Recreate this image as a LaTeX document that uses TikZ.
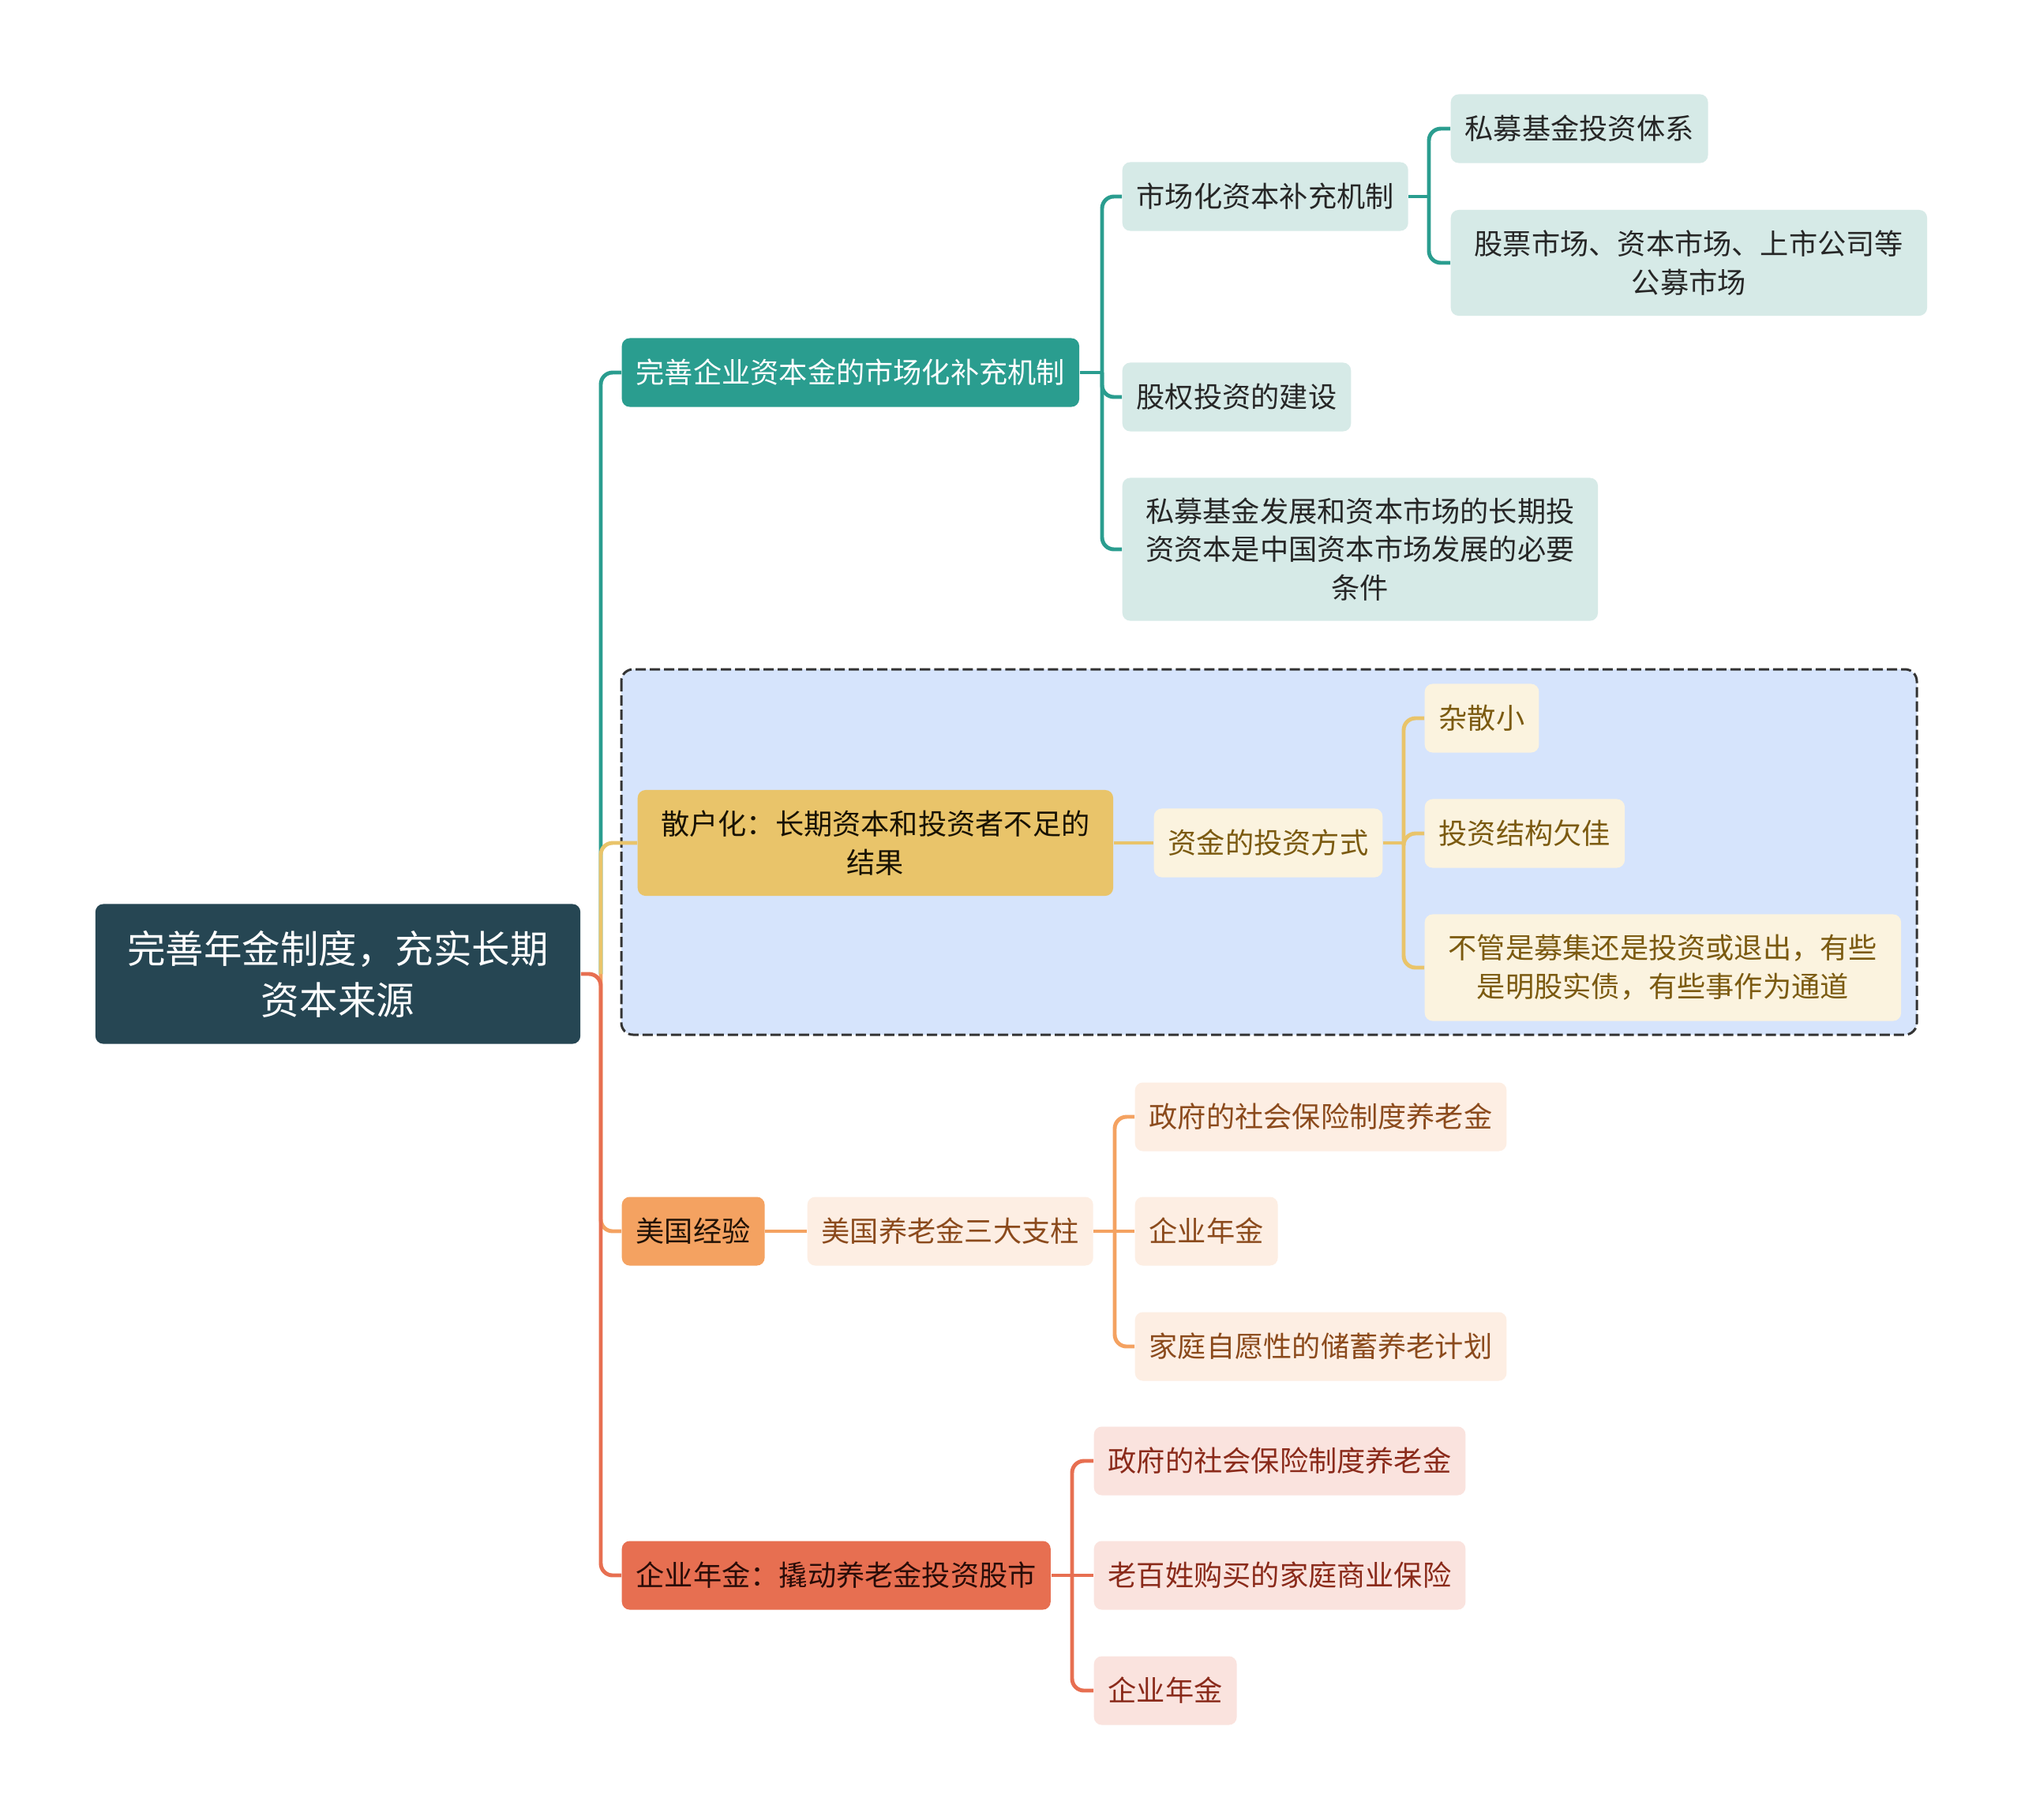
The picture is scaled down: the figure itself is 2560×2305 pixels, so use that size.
\documentclass[tikz,border=0pt]{standalone}
\usepackage{fontspec}
\setmainfont{Noto Sans CJK SC}
\definecolor{rootbg}{HTML}{264653}
\definecolor{tealc}{HTML}{2A9D8F}
\definecolor{teall}{HTML}{D6EAE7}
\definecolor{yelc}{HTML}{E9C46A}
\definecolor{yell}{HTML}{FBF3DF}
\definecolor{yelt}{HTML}{7B5A10}
\definecolor{orac}{HTML}{F4A261}
\definecolor{oral}{HTML}{FDEEE3}
\definecolor{orat}{HTML}{8B4A1C}
\definecolor{redc}{HTML}{E76F51}
\definecolor{redl}{HTML}{FAE3DE}
\definecolor{redt}{HTML}{8A2A1A}
\definecolor{groupbg}{HTML}{D6E4FC}

\begin{document}
\begin{tikzpicture}[
    x=0.01cm, y=-0.01cm,
    font=\fontsize{10.3}{13.9}\selectfont,
    box/.style={rounded corners=0.1cm, align=center, inner xsep=0.18cm, inner ysep=0pt, minimum height=0.87cm, anchor=west},
    rootbox/.style={box, fill=rootbg, text=white, anchor=center, minimum width=6.14cm, minimum height=1.77cm, font=\fontsize{13.8}{18.5}\selectfont},
    tealbox/.style={box, fill=tealc, text=white},
    tealsub/.style={box, fill=teall, text=black!85},
    yelbox/.style={box, fill=yelc, text=black!80!yelt},
    yelsub/.style={box, fill=yell, text=yelt},
    orabox/.style={box, fill=orac, text=black!75!orat},
    orasub/.style={box, fill=oral, text=orat},
    redbox/.style={box, fill=redc, text=black!70!redt},
    redsub/.style={box, fill=redl, text=redt},
    link/.style={line width=1.4pt, rounded corners=0.15cm}
]
    \fill[white] (0,0) rectangle (2560,2305);
    \useasboundingbox (0,0) rectangle (2560,2305);
    \draw[fill=groupbg, draw=black!80, line width=0.85pt, dash pattern=on 0.13cm off 0.05cm, rounded corners=0.15cm]
        (787,848) rectangle (2428,1311);

    \node[rootbox] (root) at (428,1234) {完善年金制度，充实长期\\资本来源};

    \node[tealbox] (mkt) at (787,472) {完善企业资本金的市场化补充机制};
    \node[tealsub] (mech) at (1421,249) {市场化资本补充机制};
    \node[tealsub] (pefund) at (1837,163) {私募基金投资体系};
    \node[tealsub, minimum width=6.03cm, minimum height=1.34cm] (pubmkt) at (1837,333) {股票市场、资本市场、上市公司等\\公募市场};
    \node[tealsub] (equity) at (1421,503) {股权投资的建设};
    \node[tealsub, minimum width=6.02cm, minimum height=1.81cm] (cond) at (1421,696) {私募基金发展和资本市场的长期投\\资资本是中国资本市场发展的必要\\条件};

    \node[yelbox, minimum width=6.02cm, minimum height=1.34cm] (retail) at (807,1068) {散户化：长期资本和投资者不足的\\结果};
    \node[yelsub] (way) at (1461,1068) {资金的投资方式};
    \node[yelsub] (small) at (1804,910) {杂散小};
    \node[yelsub] (struct) at (1804,1056) {投资结构欠佳};
    \node[yelsub, minimum width=6.03cm, minimum height=1.35cm] (channel) at (1804,1226) {不管是募集还是投资或退出，有些\\是明股实债，有些事作为通道};

    \node[orabox] (usa) at (787,1560) {美国经验};
    \node[orasub] (pillar) at (1022,1560) {美国养老金三大支柱};
    \node[orasub] (gov) at (1437,1415) {政府的社会保险制度养老金};
    \node[orasub] (ent) at (1437,1560) {企业年金};
    \node[orasub] (home) at (1437,1706) {家庭自愿性的储蓄养老计划};

    \node[redbox] (annuity) at (787,1996) {企业年金：撬动养老金投资股市};
    \node[redsub] (gov2) at (1385,1851) {政府的社会保险制度养老金};
    \node[redsub] (ins) at (1385,1996) {老百姓购买的家庭商业保险};
    \node[redsub] (ent2) at (1385,2142) {企业年金};

    \coordinate (t0) at (761,1234);
    \coordinate (j1) at (1396,472);
    \coordinate (j2) at (1810,249);
    \coordinate (j3) at (1778,1068);
    \coordinate (j4) at (1412,1560);
    \coordinate (j5) at (1358,1996);

    \draw[link, tealc] (t0) |- (mkt.west);
    \draw[link, orac] (t0) |- (usa.west);
    \draw[link, redc] (root.east) -- (t0) |- (annuity.west);
    \draw[link, yelc] (t0) |- (retail.west);

    \draw[link, tealc] (mkt.east) -- (j1);
    \draw[link, tealc] (j1) |- (mech.west);
    \draw[link, tealc] (j1) |- (equity.west);
    \draw[link, tealc] (j1) |- (cond.west);
    \draw[link, tealc] (mech.east) -- (j2);
    \draw[link, tealc] (j2) |- (pefund.west);
    \draw[link, tealc] (j2) |- (pubmkt.west);

    \draw[link, yelc] (retail.east) -- (way.west);
    \draw[link, yelc] (way.east) -- (j3);
    \draw[link, yelc] (j3) |- (small.west);
    \draw[link, yelc] (j3) |- (struct.west);
    \draw[link, yelc] (j3) |- (channel.west);

    \draw[link, orac] (usa.east) -- (pillar.west);
    \draw[link, orac] (pillar.east) -- (j4);
    \draw[link, orac] (j4) |- (gov.west);
    \draw[link, orac] (j4) -- (ent.west);
    \draw[link, orac] (j4) |- (home.west);

    \draw[link, redc] (annuity.east) -- (j5);
    \draw[link, redc] (j5) |- (gov2.west);
    \draw[link, redc] (j5) -- (ins.west);
    \draw[link, redc] (j5) |- (ent2.west);
\end{tikzpicture}
\end{document}
